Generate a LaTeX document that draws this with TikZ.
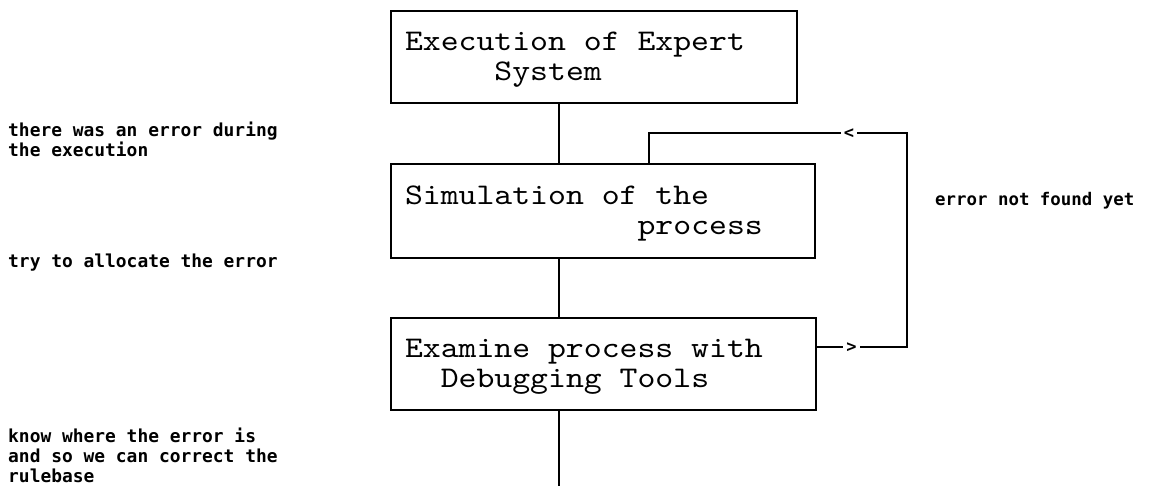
\documentclass[tikz,border=0pt]{standalone}
\usepackage{fontspec}
\newfontfamily\boxfont[FakeStretch=1.136]{lmmono10-regular.otf}
\newfontfamily\notefont{DejaVu Sans Mono}
\newcommand\boxtextfont{\boxfont\fontsize{30}{30}\selectfont}
% word space as wide as one character of the current monospaced font
\newcommand\ttspace{\spaceskip=\fontcharwd\font`0\relax
  \xspaceskip=\fontcharwd\font`0\relax}
\begin{document}
\begin{tikzpicture}[x=1pt,y=-1pt,
  stepbox/.style={draw, line width=2pt, rectangle, anchor=north west,
    inner xsep=14pt, inner ysep=0pt, align=left, font=\boxtextfont},
  note/.style={inner sep=0pt, align=left,
    font=\notefont\bfseries\fontsize{17.9}{20}\selectfont},
  link/.style={line width=2pt},
  chevron/.style={fill=white, inner xsep=3pt, inner ysep=1pt,
    font=\notefont\bfseries\fontsize{17}{17}\selectfont}]

% page
\fill[white] (0,0) rectangle (1151,486);
\useasboundingbox (0,0) rectangle (1151,486);

% process steps
\node[stepbox, minimum width=406pt, minimum height=92pt, text width=378pt]
  (exec) at (390,10)
  {\ttspace\rule{0pt}{24pt}Execution of Expert\\\hphantom{00000}System\rule[-7.5pt]{0pt}{7.5pt}};
\node[stepbox, minimum width=424pt, minimum height=94pt, text width=396pt]
  (sim) at (390,163)
  {\ttspace\rule{0pt}{24pt}Simulation of the\\\hphantom{0000000000000}process\rule[-7.5pt]{0pt}{7.5pt}};
\node[stepbox, minimum width=425pt, minimum height=92pt, text width=397pt]
  (exam) at (390,317)
  {\ttspace\rule{0pt}{24pt}Examine process with\\\hphantom{00}Debugging Tools\rule[-7.5pt]{0pt}{7.5pt}};

% main flow
\coordinate (spine) at (558.5,0);
\coordinate (tail) at (558.5,486);
\draw[link] (exec.south -| spine) -- (sim.north -| spine);
\draw[link] (sim.south -| spine) -- (exam.north -| spine);
\draw[link] (exam.south -| spine) -- (tail);

% debugging loop
\coordinate (loopT) at (649,133);
\coordinate (loopR) at (907,347);
\draw[link] (exam.east |- loopR) -- (loopR) -- (loopR |- loopT) -- (loopT)
  -- (sim.north -| loopT);
\node[chevron] (back) at (849,133.5) {<};
\node[chevron] (fwd) at (851.5,347.5) {>};

% remarks
\node[note, anchor=north west] (why) at (8,121.4)
  {\rule{0pt}{14.5pt}there was an error during\\the execution};
\node[note, anchor=base west] (try) at (8,267.9) {try to allocate the error};
\node[note, anchor=north west] (know) at (8,427.5)
  {\rule{0pt}{14.5pt}know where the error is\\and so we can correct the\\rulebase};
\node[note, anchor=base west, font=\notefont\bfseries\fontsize{17.4}{20}\selectfont]
  (again) at (935,205.9) {error not found yet};
\end{tikzpicture}
\end{document}
